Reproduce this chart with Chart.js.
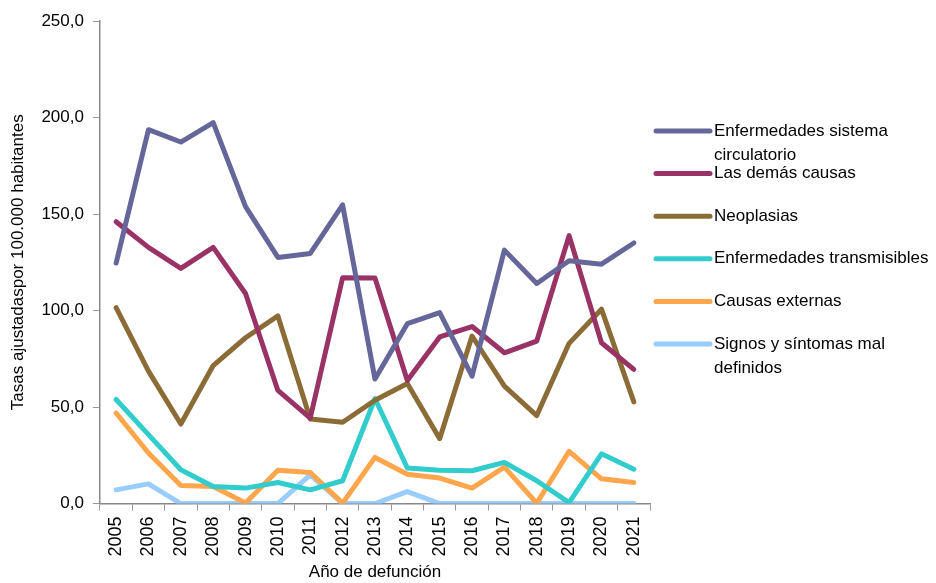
<!DOCTYPE html>
<html>
<head>
<meta charset="utf-8">
<script src="https://cdn.jsdelivr.net/npm/chart.js@4.4.1/dist/chart.umd.min.js"></script>
<style>
  html, body { margin: 0; padding: 0; background: #fff; }
  #wrap { width: 936px; height: 583px; position: relative; }
</style>
</head>
<body>
<div id="wrap"><canvas id="chart"></canvas></div>
<script>
const years = ['2005', '2006', '2007', '2008', '2009', '2010', '2011', '2012', '2013',
  '2014', '2015', '2016', '2017', '2018', '2019', '2020', '2021'];

const circulatorio = [124.6, 193.7, 187.3, 197.3, 153.8, 127.5, 129.6, 154.7, 64.5,
  93.2, 98.9, 66.0, 131.3, 114.0, 125.8, 124.0, 135.0];
const demasCausas = [146.0, 132.7, 121.8, 132.7, 108.8, 58.6, 44.3, 117.0, 116.8,
  63.8, 86.3, 91.7, 78.1, 84.2, 138.8, 83.3, 69.5];
const neoplasias = [101.5, 68.6, 41.2, 71.5, 85.9, 97.2, 43.8, 42.1, 53.5,
  62.2, 33.6, 86.8, 60.8, 45.6, 83.0, 100.7, 52.7];
const transmisibles = [53.9, 35.7, 17.5, 8.8, 8.0, 10.9, 7.1, 11.8, 54.4,
  18.4, 17.2, 17.0, 21.3, 11.8, 0.5, 25.8, 17.8];
const externas = [46.9, 26.2, 9.4, 8.8, 0.3, 17.2, 16.1, 0.2, 23.9,
  15.2, 13.2, 8.0, 18.9, 0.2, 27.0, 12.8, 10.9];
const signos = [7.1, 10.2, 0, 0, 0, 0, 14.9, 0, 0,
  6.2, 0, 0, 0, 0, 0, 0, 0];

const seriesNames = ['Enfermedades sistema circulatorio', 'Las demás causas', 'Neoplasias',
  'Enfermedades transmisibles', 'Causas externas', 'Signos y síntomas mal definidos'];
const yTicks = [0, 50, 100, 150, 200, 250];

const colors = ['#65679b', '#993366', '#8c6c36', '#33cccc', '#ffa64d', '#99ccff'];
const FONT = "'Liberation Sans', Arial, sans-serif";

// legend drawn by hand: Chart.js can't wrap labels onto two lines
const sideLegend = {
  id: 'sideLegend',
  afterDraw(chart, args, opts) {
    const ctx = chart.ctx;
    ctx.save();
    ctx.font = opts.fontSize + 'px ' + FONT;
    ctx.textBaseline = 'middle';
    ctx.fillStyle = '#000';
    chart.data.datasets.forEach((ds, i) => {
      const y = opts.top + i * opts.step;
      ctx.strokeStyle = ds.borderColor;
      ctx.lineWidth = 5;
      ctx.lineCap = 'round';
      ctx.beginPath();
      ctx.moveTo(opts.x, y);
      ctx.lineTo(opts.x + opts.lineLen, y);
      ctx.stroke();
      // word wrap
      const words = ds.label.split(' ');
      const lines = [];
      let cur = '';
      words.forEach((w) => {
        const test = cur ? cur + ' ' + w : w;
        if (ctx.measureText(test).width > opts.maxWidth && cur) {
          lines.push(cur);
          cur = w;
        } else {
          cur = test;
        }
      });
      lines.push(cur);
      lines.forEach((ln, k) => {
        ctx.fillText(ln, opts.x + opts.lineLen + 4, y + k * opts.lineHeight);
      });
    });
    ctx.restore();
  }
};

const seriesData = [circulatorio, demasCausas, neoplasias, transmisibles, externas, signos];

new Chart(document.getElementById('chart').getContext('2d'), {
  type: 'line',
  data: {
    labels: years,
    datasets: seriesData.map((d, i) => ({
      label: seriesNames[i],
      data: d,
      borderColor: colors[i],
      backgroundColor: colors[i],
      borderWidth: 5,
      pointRadius: 0,
      tension: 0,
      borderJoinStyle: 'round',
      borderCapStyle: 'round'
    }))
  },
  options: {
    responsive: true,
    maintainAspectRatio: false,
    animation: false,
    layout: { padding: { top: 21, right: 286, bottom: 0, left: 8 } },
    plugins: {
      legend: { display: false },
      tooltip: { enabled: false },
      sideLegend: { x: 656, top: 131, step: 42.6, lineLen: 54, lineHeight: 24, fontSize: 17, maxWidth: 222 }
    },
    scales: {
      x: {
        offset: true,
        grid: { display: true, offset: true, drawOnChartArea: false, drawTicks: true, tickLength: 7, color: '#999' },
        border: { color: '#888', width: 1.5 },
        ticks: { color: '#000', font: { family: FONT, size: 18 }, minRotation: 90, maxRotation: 90, padding: 6, autoSkip: false },
        title: { display: true, text: 'Año de defunción', color: '#000', font: { family: FONT, size: 17 }, padding: { top: 0, bottom: 0 } }
      },
      y: {
        min: 0,
        max: 250,
        afterBuildTicks: (axis) => { axis.ticks = yTicks.map((v) => ({ value: v })); },
        grid: { display: true, drawOnChartArea: false, drawTicks: true, tickLength: 7, color: '#999' },
        border: { color: '#888', width: 1.5 },
        ticks: {
          color: '#000',
          font: { family: FONT, size: 17 },
          padding: 9,
          callback: (v) => v.toFixed(1).replace('.', ',')
        },
        title: { display: true, text: 'Tasas ajustadaspor 100.000 habitantes', color: '#000', font: { family: FONT, size: 17 }, padding: { top: 0, bottom: 4 } }
      }
    }
  },
  plugins: [sideLegend]
});
</script>
</body>
</html>
